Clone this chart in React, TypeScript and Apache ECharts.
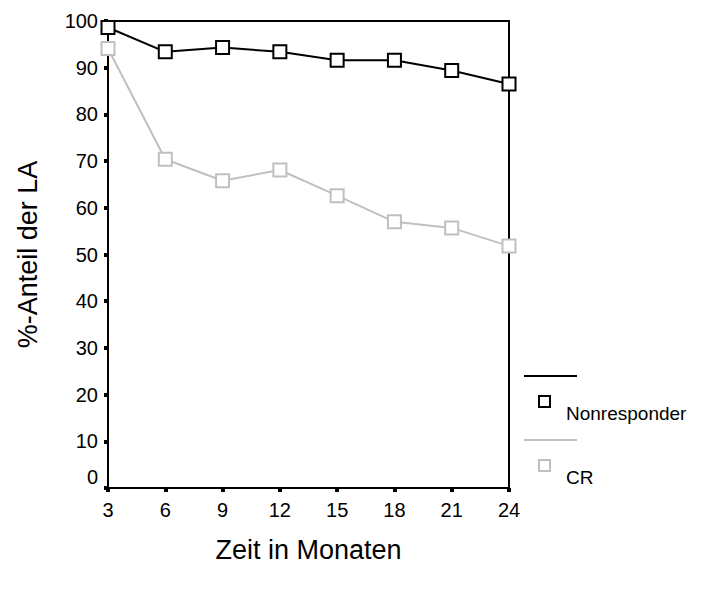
import React, { useEffect, useRef } from "react";
import * as echarts from "echarts";

// Follow-up time points (months)
const months = ["3", "6", "9", "12", "15", "18", "21", "24"];
// Percentage share of LA per group
const nonresponder = [98.6, 93.4, 94.3, 93.4, 91.6, 91.6, 89.4, 86.5];
const cr = [94.1, 70.4, 65.8, 68.1, 62.6, 57.0, 55.7, 51.8];

const seriesNames = ["Nonresponder", "CR"];
const seriesColors = ["#000000", "#c0c0c0"];

const FONT = "'Liberation Sans', Arial, Helvetica, sans-serif";

export default function App() {
  const ref = useRef<HTMLDivElement>(null);

  useEffect(() => {
    if (!ref.current) return;
    const chart = echarts.init(ref.current, null, { renderer: "svg" });

    const legendItems: any[] = [];
    seriesNames.forEach((name, i) => {
      const top = 376 + i * 64;
      legendItems.push(
        {
          type: "line",
          shape: { x1: 524, y1: top, x2: 577, y2: top },
          style: { stroke: seriesColors[i], lineWidth: 2 },
        },
        {
          type: "rect",
          shape: { x: 539, y: top + 20, width: 11, height: 11 },
          style: { fill: "#fff", stroke: seriesColors[i], lineWidth: 2 },
        },
        {
          type: "text",
          x: 566,
          y: top + 37,
          style: {
            text: name,
            fill: "#000",
            font: `19px ${FONT}`,
            verticalAlign: "middle",
            align: "left",
          },
        }
      );
    });

    chart.setOption({
      animation: false,
      backgroundColor: "#fff",
      grid: {
        left: 108,
        right: 197,
        top: 21,
        bottom: 101,
        show: true,
        borderColor: "#000",
        borderWidth: 2,
        backgroundColor: "transparent",
      },
      xAxis: {
        type: "category",
        data: months,
        boundaryGap: false,
        name: "Zeit in Monaten",
        nameLocation: "middle",
        nameGap: 48,
        nameTextStyle: { fontSize: 27, color: "#000", fontFamily: FONT },
        axisLine: { lineStyle: { color: "#000", width: 2 } },
        axisTick: {
          alignWithLabel: true,
          length: 4,
          lineStyle: { color: "#000", width: 4 },
        },
        axisLabel: { color: "#000", fontSize: 20, fontFamily: FONT, margin: 12 },
        splitLine: { show: false },
      },
      yAxis: {
        type: "value",
        min: 0,
        max: 100,
        interval: 10,
        name: "%-Anteil der LA",
        nameLocation: "middle",
        nameGap: 67,
        nameTextStyle: { fontSize: 27, color: "#000", fontFamily: FONT },
        axisLine: { show: true, lineStyle: { color: "#000", width: 2 } },
        axisTick: { show: true, length: 4, lineStyle: { color: "#000", width: 4 } },
        axisLabel: {
          color: "#000",
          fontSize: 20,
          fontFamily: FONT,
          margin: 10,
          formatter: (v: number) => (v === 0 ? "{z|0}" : String(v)),
          rich: {
            z: { fontSize: 20, fontFamily: FONT, color: "#000", padding: [0, 0, 22, 0] },
          },
        },
        splitLine: { show: false },
      },
      series: seriesNames.map((name, i) => ({
        name,
        type: "line",
        data: i === 0 ? nonresponder : cr,
        symbol: "rect",
        symbolSize: 13,
        z: i === 0 ? 3 : 2,
        lineStyle: { color: seriesColors[i], width: 2 },
        itemStyle: { color: "#fff", borderColor: seriesColors[i], borderWidth: 2 },
      })),
      graphic: legendItems,
    });

    return () => chart.dispose();
  }, []);

  return (
    <div
      ref={ref}
      style={{ position: "absolute", left: 0, top: 0, width: 706, height: 589 }}
    />
  );
}
